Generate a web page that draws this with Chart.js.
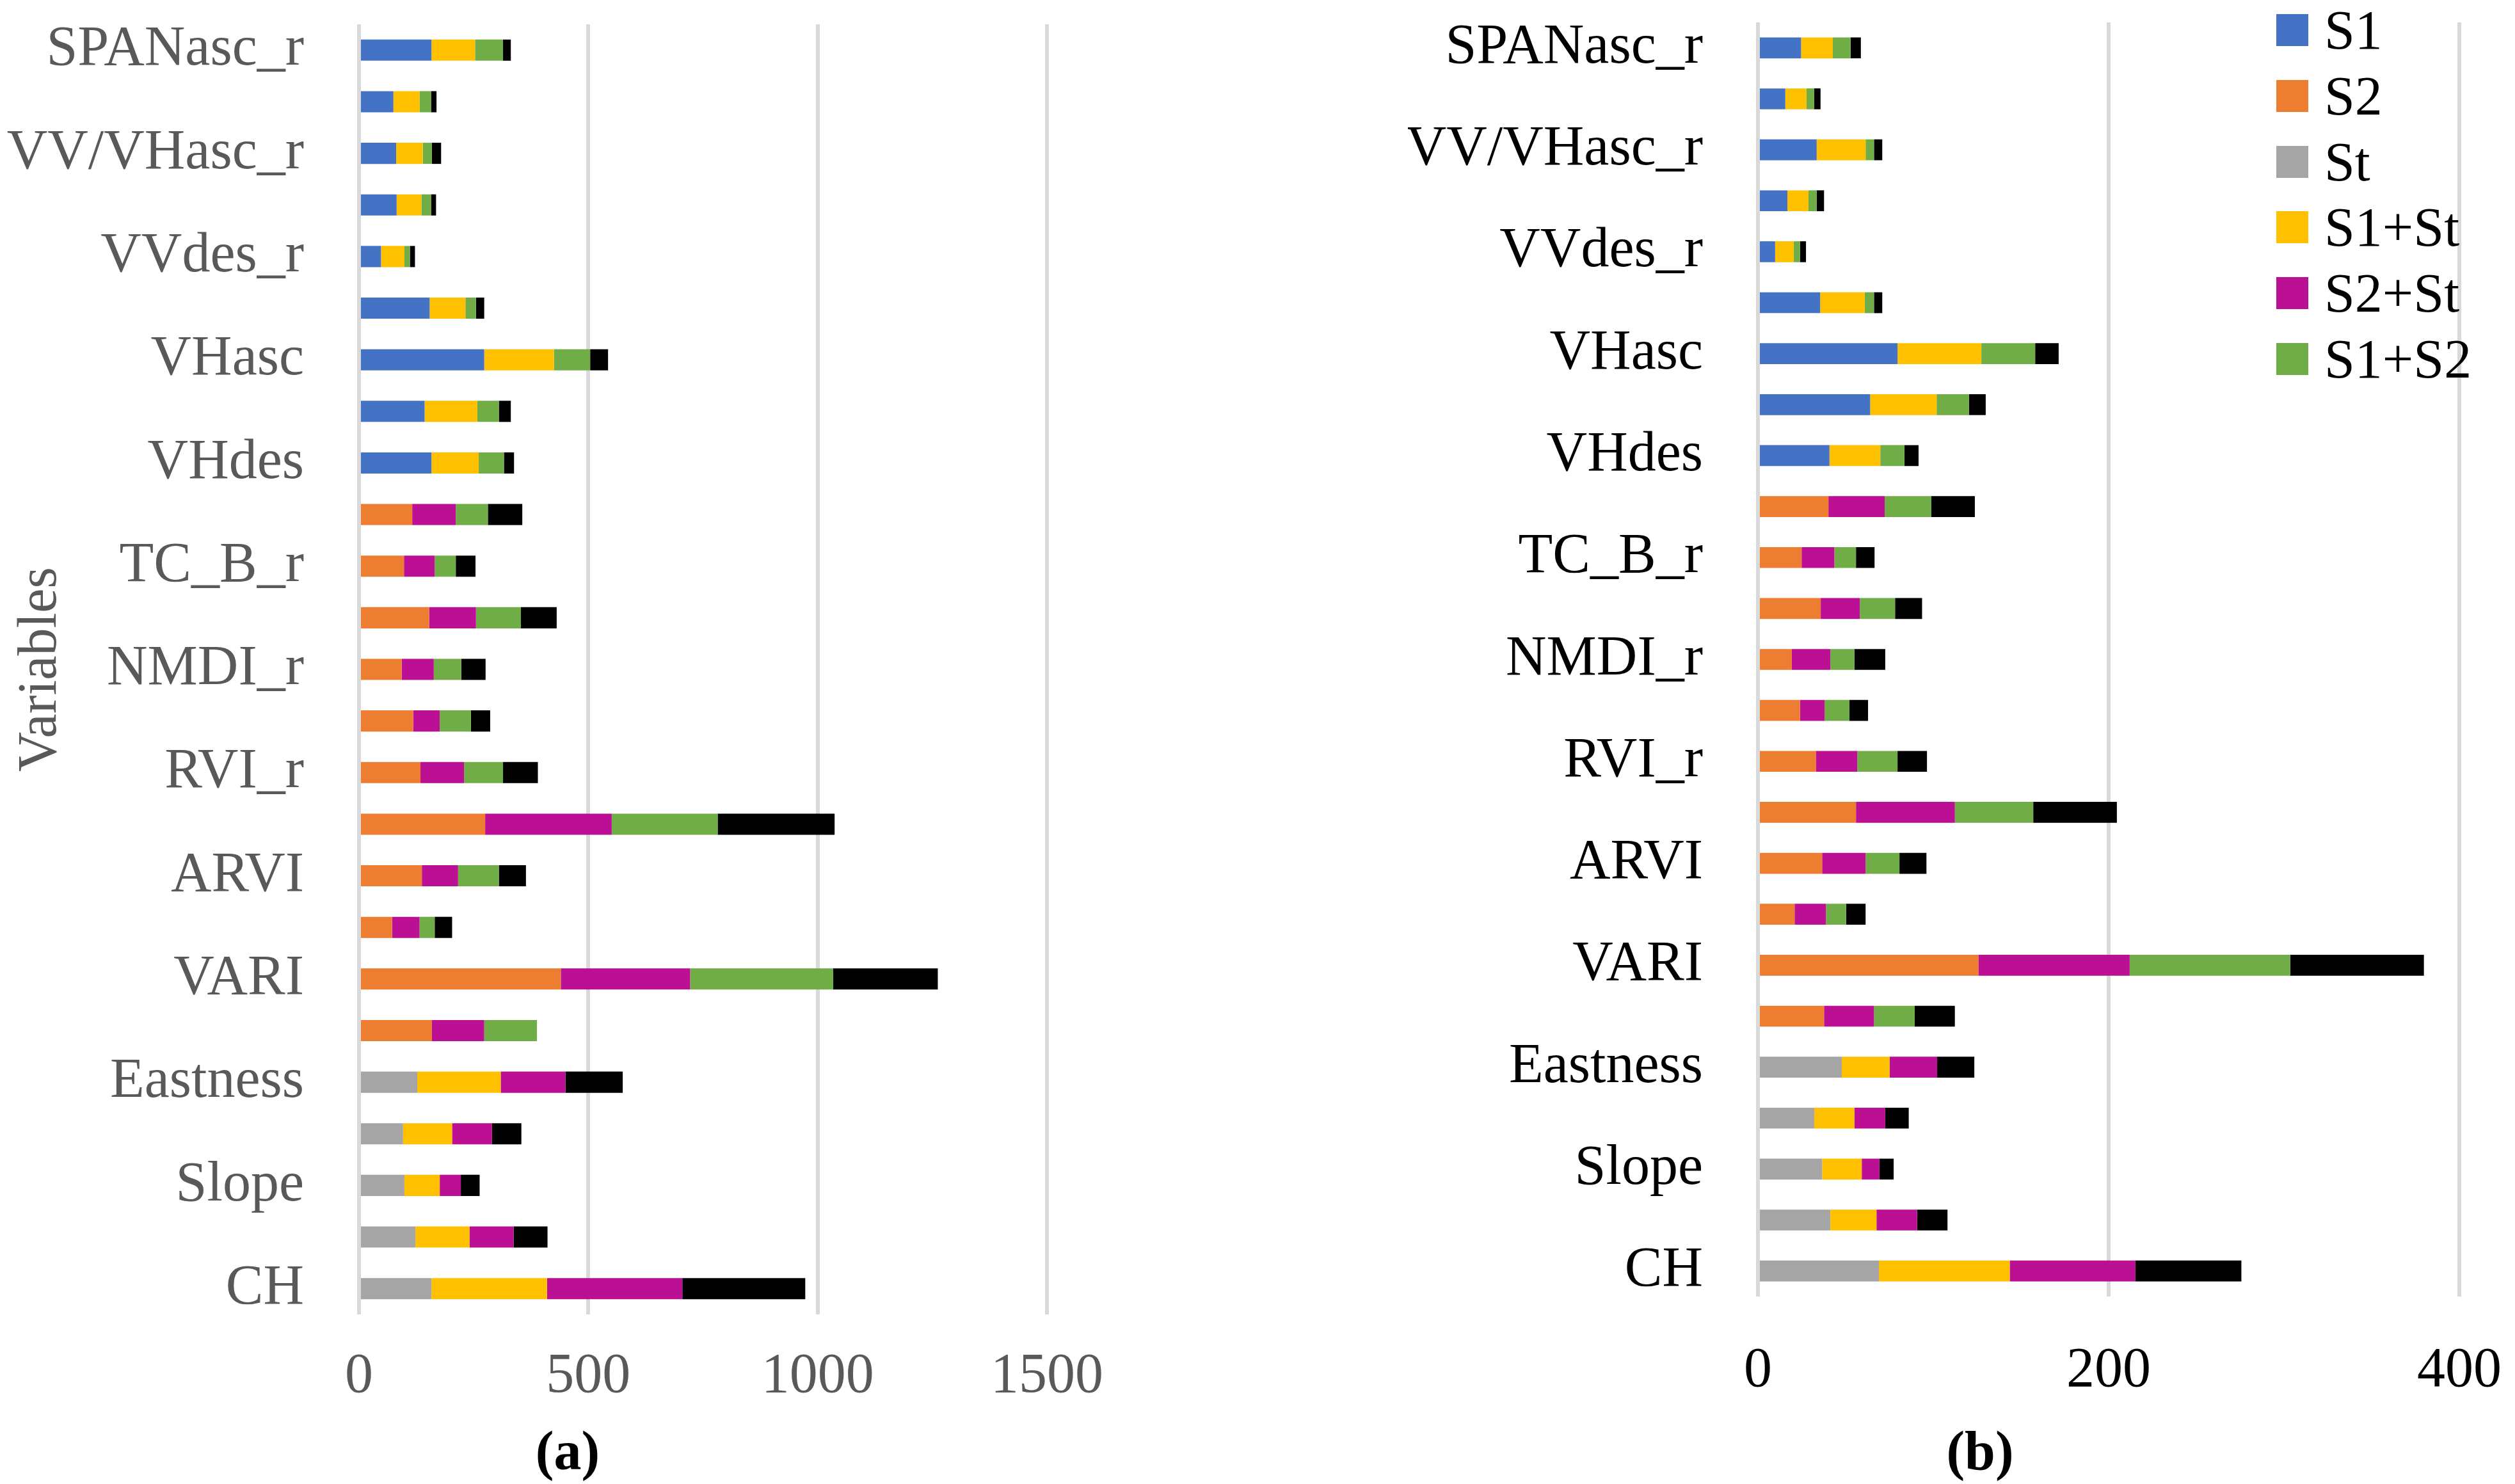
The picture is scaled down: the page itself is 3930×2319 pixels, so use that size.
<!DOCTYPE html>
<html>
<head>
<meta charset="utf-8">
<script src="https://cdn.jsdelivr.net/npm/chart.js@4.4.1/dist/chart.umd.min.js"></script>
<style>
  html, body { margin: 0; padding: 0; background: #fff; }
  body { width: 3930px; height: 2319px; position: relative; overflow: hidden; font-family: 'Liberation Serif', 'DejaVu Serif', serif; }
  .box { position: absolute; }
  .painel { position: absolute; font-weight: bold; font-size: 86px; color: #000; transform: translate(-50%, -50%); }
  #legenda { position: absolute; left: 3557px; top: 0; }
  .item { position: absolute; left: 0; height: 60px; display: flex; align-items: center; white-space: nowrap; font-size: 86px; color: #000; }
  .item span.cor { display: inline-block; width: 50px; height: 50px; margin-right: 25px; }
</style>
</head>
<body>
<div class="box" style="left:0;top:0;width:1768px;height:2319px"><canvas id="graficoA"></canvas></div>
<div class="box" style="left:2200px;top:0;width:1730px;height:2319px"><canvas id="graficoB"></canvas></div>
<div class="painel" style="left:887px;top:2267px">(a)</div>
<div class="painel" style="left:3094px;top:2267px">(b)</div>
<div id="legenda"></div>
<script>
// categorias (de cima para baixo); só as de índice par aparecem no eixo
const variaveis = ['SPANasc_r', 'SPANdes_r', 'VV/VHasc_r', 'VV/VHdes_r', 'VVdes_r', 'VVasc_r', 'VHasc', 'VHasc_r', 'VHdes',
  'TC_W_r', 'TC_B_r', 'TC_G_r', 'NMDI_r', 'NDWI_r', 'RVI_r', 'NDVI', 'ARVI', 'EVI', 'VARI', 'GNDVI',
  'Eastness', 'Northness', 'Slope', 'DEM', 'CH'];

const series = ['S1', 'S2', 'St', 'S1+St', 'S2+St', 'S1+S2', 'S1+S2+St'];
const cores = ['#4472C4', '#ED7D31', '#A5A5A5', '#FFC000', '#BB1093', '#70AD47', '#000000'];

// painel (a)
const a_S1 = [158, 75, 81, 82, 48, 154, 273, 143, 158, null, null, null, null, null, null, null, null, null, null, null, null, null, null, null, null];
const a_S2 = [null, null, null, null, null, null, null, null, null, 116, 98, 153, 93, 118, 134, 275, 137, 72, 440, 159, null, null, null, null, null];
const a_St = [null, null, null, null, null, null, null, null, null, null, null, null, null, null, null, null, null, null, null, null, 127, 96, 99, 123, 158];
const a_S1St = [95, 57, 58, 54, 51, 78, 152, 115, 103, null, null, null, null, null, null, null, null, null, null, null, 182, 107, 77, 118, 252];
const a_S2St = [null, null, null, null, null, null, null, null, null, 95, 67, 102, 70, 58, 95, 276, 79, 60, 282, 114, 141, 87, 46, 96, 295];
const a_S1S2 = [61, 25, 20, 21, 12, 23, 79, 47, 55, 70, 46, 98, 60, 68, 85, 231, 89, 33, 312, 115, null, null, null, null, null];
const a_Todos = [17, 12, 20, 11, 11, 18, 39, 26, 22, 75, 43, 78, 53, 42, 76, 255, 59, 38, 228, null, 125, 64, 41, 74, 268];

// painel (b)
const b_S1 = [24.6, 15.6, 33.5, 16.8, 9.8, 35.5, 79.6, 64, 40.8, null, null, null, null, null, null, null, null, null, null, null, null, null, null, null, null];
const b_S2 = [null, null, null, null, null, null, null, null, null, 40.2, 24.9, 35.8, 19.3, 24, 33, 55.9, 36.6, 20.9, 125.7, 37.7, null, null, null, null, null];
const b_St = [null, null, null, null, null, null, null, null, null, null, null, null, null, null, null, null, null, null, null, null, 47.8, 32.1, 36.6, 41.3, 69];
const b_S1St = [18.1, 12.1, 27.9, 12, 10.6, 25.4, 47.8, 37.9, 29, null, null, null, null, null, null, null, null, null, null, null, 27.3, 22.9, 22.6, 26.3, 74.6];
const b_S2St = [null, null, null, null, null, null, null, null, null, 32.1, 18.7, 22.3, 22, 14, 23.7, 56.4, 24.8, 17.9, 86.3, 28.5, 27.1, 17.6, 10.1, 23.2, 71.7];
const b_S1S2 = [10.1, 4.4, 4.8, 4.7, 3.6, 5.3, 30.7, 18.5, 13.7, 26.6, 12.3, 20.1, 13.7, 14.2, 22.9, 44.7, 19.3, 11.5, 91.6, 23.2, null, null, null, null, null];
const b_Todos = [5.9, 3.6, 4.7, 4.2, 3.4, 4.7, 13.4, 9.5, 8.1, 24.8, 10.6, 15.4, 17.6, 10.6, 16.8, 47.7, 15.4, 11.1, 76.2, 22.9, 21.2, 13.4, 8.1, 17.3, 60.4];

const ticksA = [0, 500, 1000, 1500];
const ticksB = [0, 200, 400];

const fonte = "'Liberation Serif', 'DejaVu Serif', serif";
const ALTURA = 2319;

function montarDatasets(valores) {
  return valores.map((dados, i) => ({
    label: series[i],
    data: dados,
    backgroundColor: cores[i],
    borderWidth: 0,
    barPercentage: 0.41,
    categoryPercentage: 1
  }));
}

function criarGrafico(id, valores, ticks, corTexto, larguraEixoY, direita, topo, base, padX, comTitulo) {
  const ctx = document.getElementById(id).getContext('2d');
  return new Chart(ctx, {
    type: 'bar',
    data: { labels: variaveis, datasets: montarDatasets(valores) },
    options: {
      indexAxis: 'y',
      responsive: true,
      maintainAspectRatio: false,
      animation: false,
      layout: { padding: { top: topo, right: direita, left: 0, bottom: 0 } },
      plugins: { legend: { display: false }, tooltip: { enabled: false } },
      scales: {
        x: {
          stacked: true,
          min: ticks[0],
          max: ticks[ticks.length - 1],
          afterBuildTicks: function (scale) {
            scale.ticks = ticks.map(v => ({ value: v }));
          },
          afterFit: function (scale) {
            scale.height = ALTURA - base;
            scale.paddingLeft = 0;
            scale.paddingRight = 0;
          },
          border: { display: false },
          grid: { color: '#D9D9D9', lineWidth: 6, drawTicks: false },
          ticks: {
            color: corTexto,
            padding: padX,
            font: { family: fonte, size: 88 },
            callback: v => String(v)
          }
        },
        y: {
          stacked: true,
          afterFit: function (scale) {
            scale.width = larguraEixoY;
            scale.paddingTop = 0;
            scale.paddingBottom = 0;
          },
          border: { display: false },
          grid: { display: false, drawTicks: false },
          ticks: {
            autoSkip: false,
            color: corTexto,
            padding: 86,
            font: { family: fonte, size: 88 },
            callback: function (v, i) {
              return i % 2 === 0 ? variaveis[i] : '';
            }
          },
          title: {
            display: comTitulo,
            text: 'Variables',
            color: corTexto,
            padding: { top: 13, bottom: 0 },
            font: { family: fonte, size: 86 }
          }
        }
      }
    }
  });
}

const graficoA = criarGrafico('graficoA', [a_S1, a_S2, a_St, a_S1St, a_S2St, a_S1S2, a_Todos], ticksA, '#595959', 561, 1768 - 1636, 38, 2054, 45, true);
const graficoB = criarGrafico('graficoB', [b_S1, b_S2, b_St, b_S1St, b_S2St, b_S1S2, b_Todos], ticksB, '#000000', 2747 - 2200, 1730 - (3843 - 2200), 35, 2026, 64, false);

// legenda montada a partir dos datasets (sem a última série)
const legenda = document.getElementById('legenda');
graficoB.data.datasets.slice(0, 6).forEach((ds, i) => {
  const item = document.createElement('div');
  item.className = 'item';
  item.style.top = (47 + i * 102.8 - 30) + 'px';
  item.innerHTML = `<span class="cor" style="background:${ds.backgroundColor}"></span><span>${ds.label}</span>`;
  legenda.appendChild(item);
});
</script>
</body>
</html>
